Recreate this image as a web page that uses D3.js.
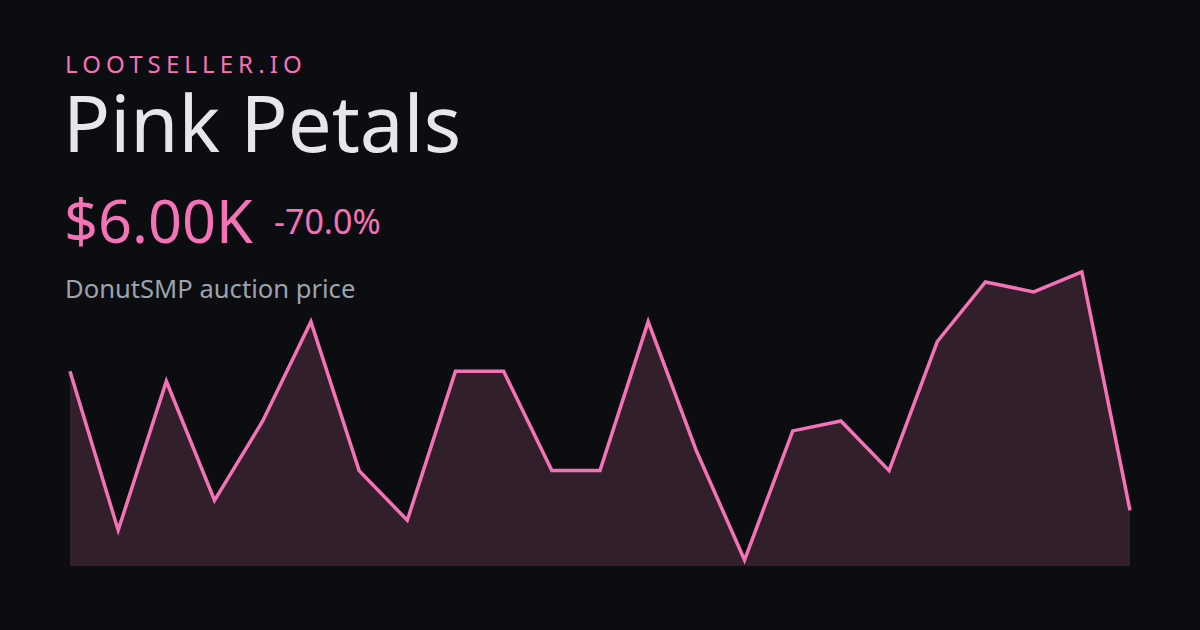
<!DOCTYPE html>
<html><head><meta charset="utf-8">
<script src="https://cdn.jsdelivr.net/npm/d3@7"></script>
<style>html,body{margin:0;padding:0;background:#0c0d10;}svg{display:block;}</style>
</head><body>
<script>
const brand = "LOOTSELLER.IO";
const itemName = "Pink Petals";
const priceLabel = "$6.00K";
const changeLabel = "-70.0%";
const subtitle = "DonutSMP auction price";
const periods = d3.range(23);
const prices = [20000, 4000, 19000, 7000, 15000, 25000, 10000, 5000, 20000, 20000, 10000, 10000, 25000, 12000, 1000, 14000, 15000, 10000, 23000, 29000, 28000, 30000, 6000];

const W = 1200, H = 630;
const svg = d3.select("body").append("svg").attr("width", W).attr("height", H);
svg.append("rect").attr("width", W).attr("height", H).attr("fill", "#0c0d10");

const font = "'Noto Sans', 'Open Sans', sans-serif";
svg.append("text").attr("x", 65).attr("y", 73).attr("font-family", font).attr("font-size", 24)
  .attr("letter-spacing", 5.1).attr("fill", "#f472b6").text(brand);
svg.append("text").attr("x", 63).attr("y", 152).attr("font-family", font).attr("font-size", 78)
  .attr("fill", "#e5e7eb").text(itemName);
svg.append("text").attr("x", 64).attr("y", 243).attr("font-family", font).attr("font-size", 59.5)
  .attr("fill", "#f472b6").text(priceLabel);
svg.append("text").attr("x", 274).attr("y", 234).attr("font-family", font).attr("font-size", 34)
  .attr("fill", "#f472b6").text(changeLabel);
svg.append("text").attr("x", 65).attr("y", 298).attr("font-family", font).attr("font-size", 25.6)
  .attr("fill", "#9ca3af").text(subtitle);

const x = d3.scaleLinear().domain([0, periods.length - 1]).range([70, 1130]);
const y = d3.scaleLinear().domain([d3.min(prices), d3.max(prices)]).range([560, 272]);
const baseY = 566;

const area = d3.area().x((d, i) => x(periods[i])).y0(baseY).y1(d => y(d));
const line = d3.line().x((d, i) => x(periods[i])).y(d => y(d));

svg.append("path").datum(prices).attr("d", area).attr("fill", "#31202c");
svg.append("path").datum(prices).attr("d", line).attr("fill", "none")
  .attr("stroke", "#f472b6").attr("stroke-width", 3.5).attr("stroke-linejoin", "miter");
</script>
</body></html>
